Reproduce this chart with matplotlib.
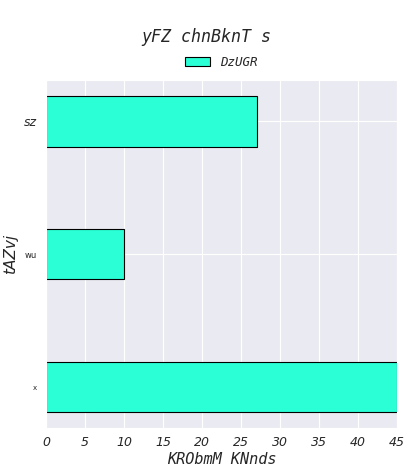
import matplotlib
matplotlib.use("Agg")
import matplotlib.pyplot as plt
import seaborn as sns

sns.set_style("darkgrid")

categories = ["x", "wu", "sz"]
values = [45, 10, 27]

fig, ax = plt.subplots(figsize=(4.13, 4.72), dpi=100)
ax.barh(categories, values, height=0.38, color="#2affd5", edgecolor="black",
        linewidth=0.8, label="DzUGR")
ax.set_xlim(0, 45)
ax.set_xticks(range(0, 46, 5))
ax.tick_params(axis="x", labelsize=9, pad=2)
for lab in ax.get_xticklabels():
    lab.set_fontstyle("italic")
ylabs = ax.get_yticklabels()
sizes = [5, 6, 9]
for lab, s in zip(ylabs, sizes):
    lab.set_fontsize(s)
    lab.set_fontstyle("italic")
ylabs[0].set_fontstyle("normal")
ylabs[1].set_fontstyle("normal")
ax.set_xlabel("KRObmM KNnds", family="DejaVu Sans Mono", style="italic", fontsize=11, labelpad=2)
ax.set_ylabel("tAZvj", style="italic", fontsize=11)
fig.suptitle("yFZ chnBknT s", family="DejaVu Sans Mono", style="italic", fontsize=12, y=0.94)
leg = ax.legend(loc="lower center", bbox_to_anchor=(0.5, 1.0), frameon=False,
                prop={"family": "DejaVu Sans Mono", "style": "italic", "size": 9})
fig.subplots_adjust(left=0.112, right=0.961, top=0.83, bottom=0.093)
fig.savefig("out.png")
